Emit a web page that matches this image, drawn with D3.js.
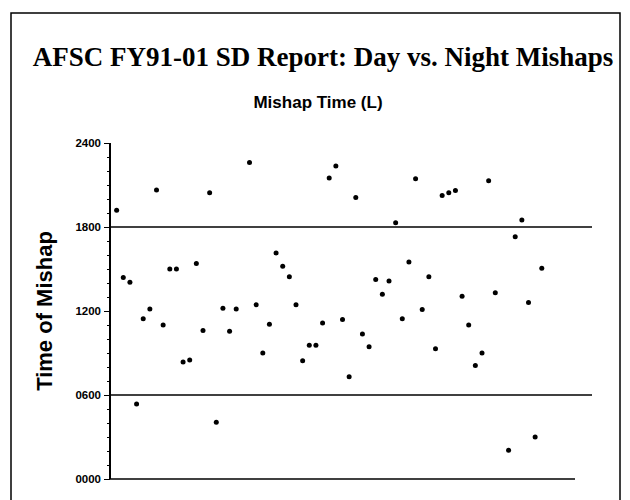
<!DOCTYPE html>
<html lang="en">
<head>
    <meta charset="UTF-8">
    <title>AFSC FY91-01 SD Report: Day vs. Night Mishaps</title>
    <script src="https://d3js.org/d3.v7.min.js"></script>
    <style>
        body { margin: 0; background: #fff; }
        svg { display: block; }
    </style>
</head>
<body>
    <div id="chart"></div>
    <script>
        // Mishap times (local), one per mishap in report order; null = no point drawn
        const mishapTimes = [
            1920, 1440, 1405, 535, 1145, 1215, 2065, 1100, 1500, 1500,
            835, 850, 1540, 1060, 2045, 405, 1220, 1055, 1215, null,
            2260, 1245, 900, 1105, 1615, 1520, 1445, 1245, 845, 955,
            955, 1115, 2150, 2235, 1140, 730, 2010, 1035, 945, 1425,
            1320, 1415, 1830, 1145, 1550, 2145, 1210, 1445, 930, 2025,
            2045, 2060, 1305, 1100, 810, 900, 2130, 1330, null, 205,
            1730, 1850, 1260, 300, 1505
        ];
        const yTicks = [0, 600, 1200, 1800, 2400];
        const yTickLabels = ["0000", "0600", "1200", "1800", "2400"];
        const dayNightBounds = [600, 1800];

        const width = 630, height = 500;

        const svg = d3.select("#chart")
            .append("svg")
            .attr("width", width)
            .attr("height", height);

        // outer frame
        svg.append("path")
            .attr("d", "M11,520 V13 H620 V520")
            .attr("fill", "none")
            .attr("stroke", "#000")
            .attr("stroke-width", 1.5);

        svg.append("text")
            .attr("x", 323)
            .attr("y", 66)
            .attr("text-anchor", "middle")
            .style("font-family", "'Liberation Serif', 'Times New Roman', serif")
            .style("font-weight", "bold")
            .style("font-size", "27px")
            .text("AFSC FY91-01 SD Report: Day vs. Night Mishaps");

        svg.append("text")
            .attr("x", 318)
            .attr("y", 108)
            .attr("text-anchor", "middle")
            .style("font-family", "'Liberation Sans', Arial, sans-serif")
            .style("font-weight", "bold")
            .style("font-size", "17px")
            .text("Mishap Time (L)");

        const xScale = d3.scaleLinear()
            .domain([0, 70])
            .range([110, 575]);

        const yScale = d3.scaleLinear()
            .domain([0, 2400])
            .range([479, 143]);

        // minor ticks every 100
        const yAxisMinor = d3.axisLeft(yScale)
            .tickValues(d3.range(0, 2401, 100))
            .tickSize(3)
            .tickFormat("");
        svg.append("g")
            .attr("transform", "translate(110,0)")
            .call(yAxisMinor)
            .call(g => g.select(".domain").remove());

        const yAxis = d3.axisLeft(yScale)
            .tickValues(yTicks)
            .tickSize(6)
            .tickPadding(3)
            .tickFormat((d, i) => yTickLabels[i]);
        svg.append("g")
            .attr("transform", "translate(110,0)")
            .call(yAxis)
            .call(g => g.select(".domain").attr("stroke-width", 2).attr("d", "M0," + yScale(2400) + "V" + yScale(0)))
            .call(g => g.selectAll("text")
                .style("font-family", "'Liberation Sans', Arial, sans-serif")
                .style("font-weight", "bold")
                .style("font-size", "11.5px"));

        // x axis at 0000
        svg.append("line")
            .attr("x1", xScale(0))
            .attr("x2", xScale(70))
            .attr("y1", yScale(0))
            .attr("y2", yScale(0))
            .attr("stroke", "#000")
            .attr("stroke-width", 1.5);

        // day/night boundaries
        svg.selectAll(".bound")
            .data(dayNightBounds)
            .enter()
            .append("line")
            .attr("class", "bound")
            .attr("x1", xScale(0))
            .attr("x2", 592)
            .attr("y1", d => yScale(d))
            .attr("y2", d => yScale(d))
            .attr("stroke", "#000")
            .attr("stroke-width", 1.5);

        svg.append("text")
            .attr("transform", "translate(52," + 311 + ") rotate(-90)")
            .attr("text-anchor", "middle")
            .style("font-family", "'Liberation Sans', Arial, sans-serif")
            .style("font-weight", "bold")
            .style("font-size", "22px")
            .text("Time of Mishap");

        const points = mishapTimes
            .map((v, i) => ({ n: i + 1, v: v }))
            .filter(d => d.v !== null);

        svg.selectAll(".dot")
            .data(points)
            .enter()
            .append("circle")
            .attr("class", "dot")
            .attr("cx", d => xScale(d.n))
            .attr("cy", d => yScale(d.v))
            .attr("r", 2.5)
            .attr("fill", "#000");
    </script>
</body>
</html>
